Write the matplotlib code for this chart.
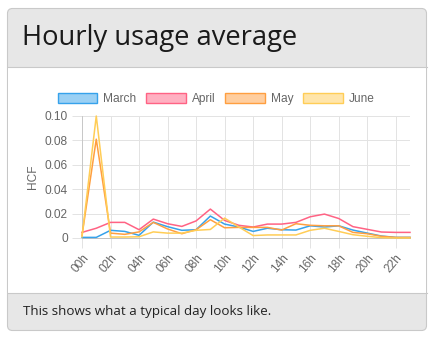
import matplotlib
matplotlib.use("Agg")
import matplotlib.pyplot as plt
from matplotlib.patches import FancyBboxPatch, Rectangle, Patch

# hours of the day
hours = list(range(24))
hour_labels = ["%02dh" % h for h in hours]

# average usage per hour (HCF)
march = [0.0005, 0.0005, 0.0063, 0.0054, 0.0022, 0.0130, 0.0093, 0.0063,
         0.0068, 0.0180, 0.0114, 0.0090, 0.0054, 0.0080, 0.0068, 0.0065,
         0.0100, 0.0090, 0.0100, 0.0065, 0.0040, 0.0016, 0.0005, 0.0005]
april = [0.0046, 0.0080, 0.0128, 0.0128, 0.0068, 0.0155, 0.0117, 0.0095,
         0.0140, 0.0237, 0.0144, 0.0104, 0.0090, 0.0114, 0.0114, 0.0128,
         0.0174, 0.0196, 0.0160, 0.0093, 0.0071, 0.0049, 0.0046, 0.0046]
may = [0.0020, 0.0810, 0.0040, 0.0030, 0.0050, 0.0128, 0.0074, 0.0035,
       0.0068, 0.0150, 0.0084, 0.0087, 0.0087, 0.0087, 0.0065, 0.0117,
       0.0104, 0.0100, 0.0100, 0.0046, 0.0035, 0.0014, 0.0005, 0.0005]
june = [0.0010, 0.1000, 0.0008, 0.0008, 0.0010, 0.0050, 0.0040, 0.0040,
        0.0063, 0.0070, 0.0163, 0.0090, 0.0020, 0.0025, 0.0025, 0.0025,
        0.0063, 0.0080, 0.0054, 0.0027, 0.0014, 0.0003, 0.0000, 0.0000]

series = [("March", march, (54, 162, 235)),
          ("April", april, (255, 99, 132)),
          ("May", may, (255, 159, 64)),
          ("June", june, (255, 205, 86))]

y_ticks = [0, 0.02, 0.04, 0.06, 0.08, 0.10]
y_tick_labels = ["0", "0.02", "0.04", "0.06", "0.08", "0.10"]

W, H = 434, 338
grid = "#e3e3e3"
border = "#c9c9c9"
tick_col = "#666666"
chart_font = "Liberation Sans"


def rgb(c, a=1.0):
    return (c[0] / 255, c[1] / 255, c[2] / 255, a)


def main():
    fig = plt.figure(figsize=(W / 100, H / 100), dpi=100)

    # background layer in pixel coordinates for the card
    bg = fig.add_axes([0, 0, 1, 1], zorder=0)
    bg.set_xlim(0, W)
    bg.set_ylim(H, 0)
    bg.axis("off")

    card = FancyBboxPatch((7.5, 8.5), 419, 322, boxstyle="round,pad=0,rounding_size=5",
                          facecolor="#e7e7e7", edgecolor=border, linewidth=0.8)
    bg.add_patch(card)
    bg.add_patch(Rectangle((8, 67), 418, 226, facecolor="white", edgecolor="none"))
    bg.plot([7.5, 426.5], [67, 67], color=border, lw=0.8)
    bg.plot([7.5, 426.5], [293, 293], color=border, lw=0.8)

    bg.text(22, 37.5, "Hourly usage average", fontsize=19.7, family="Open Sans",
            color="#1a1a1a", va="center", ha="left")
    bg.text(23, 312, "This shows what a typical day looks like.", fontsize=9.6,
            family="Open Sans", color="#222222", va="center", ha="left")

    # chart
    ax = fig.add_axes([82 / W, 100 / H, 328 / W, 122 / H], zorder=1)
    ax.patch.set_alpha(0)
    for name, vals, col in series:
        ax.plot(hours, vals, color=rgb(col), lw=1.1, clip_on=False, zorder=3)

    ax.set_xlim(0, 23)
    ax.set_ylim(0, 0.1)
    ax.set_xticks(hours[::2])
    ax.set_xticklabels(hour_labels[::2], rotation=50, ha="right",
                       rotation_mode="anchor", family=chart_font, fontsize=8.6,
                       color=tick_col)
    ax.set_yticks(y_ticks)
    ax.set_yticklabels(y_tick_labels, family=chart_font, fontsize=8.6, color=tick_col)
    ax.tick_params(axis="both", length=7, width=0.7, color=grid, pad=3)
    ax.grid(True, color=grid, lw=0.7, zorder=0)
    for s in ["top", "right"]:
        ax.spines[s].set_visible(False)
    ax.spines["left"].set_color("#c8c8c8")
    ax.spines["bottom"].set_color("#c0c0c0")
    ax.spines["left"].set_linewidth(0.7)
    ax.spines["bottom"].set_linewidth(0.7)
    ax.set_ylabel("HCF", family=chart_font, fontsize=8.6, color=tick_col, labelpad=4)

    handles = [Patch(facecolor=rgb(c, 0.5), edgecolor=rgb(c), linewidth=1.0, label=n)
               for n, v, c in series]
    leg = fig.legend(handles=handles, loc="center", ncol=4,
                     bbox_to_anchor=(216 / W, (H - 99) / H), frameon=False,
                     prop={"family": chart_font, "size": 8.6},
                     handlelength=3.33, handleheight=1.0, handletextpad=0.5,
                     columnspacing=0.8, borderaxespad=0)
    for t in leg.get_texts():
        t.set_color(tick_col)

    fig.savefig("out.png", dpi=100)


if __name__ == "__main__":
    main()
